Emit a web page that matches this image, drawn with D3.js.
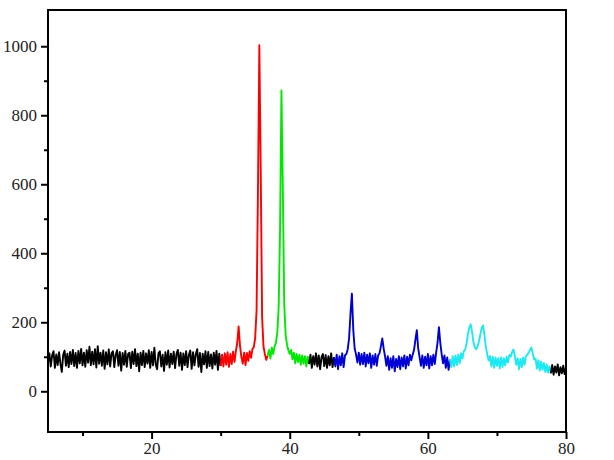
<!DOCTYPE html>
<html>
<head>
<meta charset="utf-8">
<script src="https://cdn.jsdelivr.net/npm/d3@7"></script>
<style>
  body { margin: 0; background: #fff; }
  .tick text { font-family: "Liberation Serif", "DejaVu Serif", serif; font-size: 17px; fill: #222; }
</style>
</head>
<body>
<div id="chart"></div>
<script>
const width = 614;
const height = 460;

// 2-theta sampling: each segment starts at segStart and steps by 0.2 deg
const step = 0.2;
const segStart = [5.0, 30.0, 36.8, 42.8, 46.4, 63.2, 77.8];

// intensity readings per coloured segment
const black1 = [
  84, 110, 72, 104, 116, 68, 107, 76, 113, 80,
  56, 106, 118, 74, 109, 70, 114, 79, 120, 73,
  111, 68, 117, 81, 123, 75, 112, 71, 119, 83,
  129, 76, 115, 78, 122, 69, 131, 80, 112, 74,
  118, 65, 113, 78, 121, 72, 110, 116, 70, 106,
  119, 74, 114, 60, 111, 77, 117, 71, 108, 112,
  67, 115, 79, 122, 73, 109, 58, 112, 76, 117,
  70, 110, 80, 119, 68, 114, 75, 126, 78, 64,
  111, 116, 72, 106, 59, 113, 77, 118, 69, 109,
  79, 115, 67, 108, 120, 74, 112, 62, 110, 76,
  116, 70, 106, 118, 65, 113, 75, 108, 122, 71,
  111, 56, 109, 78, 116, 68, 114, 73, 107, 66,
  112, 77, 117, 62, 109, 73
];
const red = [
  74, 106, 72, 110, 77, 113, 71, 108, 79, 115,
  85, 116, 140, 188, 132, 99, 80, 112, 76, 111,
  88, 116, 97, 122, 128, 155, 235, 580, 1003, 640,
  215, 130, 108, 91, 103
];
const green = [
  103, 120, 95, 126, 108, 130, 140, 170, 245, 470,
  872, 590, 255, 165, 135, 119, 108, 120, 93, 112,
  81, 108, 85, 106, 77, 104, 80, 102, 72, 100,
  79
];
const black2 = [79, 106, 68, 102, 77, 110, 72, 104, 64, 99, 108, 73, 105, 68, 102, 75, 110, 70, 99];
const blue = [
  99, 72, 106, 64, 102, 75, 110, 70, 104, 108,
  122, 155, 225, 283, 178, 124, 107, 83, 112, 77,
  108, 79, 112, 72, 106, 81, 110, 68, 104, 77,
  108, 74, 104, 110, 130, 153, 124, 101, 74, 102,
  62, 96, 68, 102, 58, 94, 70, 102, 64, 98,
  72, 104, 66, 100, 75, 106, 90, 106, 120, 150,
  177, 124, 99, 74, 104, 68, 100, 75, 108, 66,
  102, 75, 106, 79, 112, 140, 186, 140, 107, 81,
  104, 68, 98, 62, 92
];
const cyan = [
  92, 70, 102, 72, 104, 76, 106, 81, 110, 95,
  116, 120, 138, 165, 184, 194, 172, 142, 128, 122,
  130, 145, 165, 184, 191, 162, 128, 107, 89, 102,
  72, 100, 68, 98, 74, 96, 66, 98, 70, 96,
  75, 100, 83, 105, 100, 114, 121, 100, 77, 96,
  64, 94, 70, 98, 77, 102, 106, 112, 120, 127,
  108, 92, 94, 66, 90, 60, 86, 62, 82, 56,
  78, 54, 72, 52
];
const black3 = [52, 76, 48, 72, 54, 78, 46, 70, 52, 74, 50, 68];

const segValues = [black1, red, green, black2, blue, cyan, black3];
const segColor = ['#000000', '#ff0000', '#00e800', '#000000', '#0000d2', '#1ee8f0', '#000000'];

const xMajor = [20, 40, 60, 80];
const xMinor = [10, 30, 50, 70];
const yMajor = [0, 200, 400, 600, 800, 1000];
const yMinor = [100, 300, 500, 700, 900];

const x = d3.scaleLinear().domain([5, 80]).range([48, 566]);
const y = d3.scaleLinear().domain([-118, 1105]).range([432, 10]);

const svg = d3.select('#chart').append('svg')
  .attr('width', width)
  .attr('height', height);

const line = d3.line()
  .x((d) => x(d[0]))
  .y((d) => y(d[1]));

const plot = svg.append('g');
segValues.forEach((vals, k) => {
  const pts = vals.map((v, i) => [segStart[k] + i * step, v]);
  plot.append('path')
    .attr('d', line(pts))
    .attr('fill', 'none')
    .attr('stroke', segColor[k])
    .attr('stroke-width', 1.9)
    .attr('stroke-linejoin', 'round');
});

// frame
svg.append('rect')
  .attr('x', x(5)).attr('y', y(1105))
  .attr('width', x(80) - x(5)).attr('height', y(-118) - y(1105))
  .attr('fill', 'none')
  .attr('stroke', '#000')
  .attr('stroke-width', 2);

// axes
const fmt = d3.format('d');
const gx = svg.append('g').attr('transform', `translate(0,${y(-118)})`);
gx.call(d3.axisBottom(x).tickValues(xMajor).tickSize(7).tickSizeOuter(0).tickPadding(3).tickFormat(fmt));
const gxm = svg.append('g').attr('transform', `translate(0,${y(-118)})`);
gxm.call(d3.axisBottom(x).tickValues(xMinor).tickSize(4).tickSizeOuter(0).tickFormat(''));

const gy = svg.append('g').attr('transform', `translate(${x(5)},0)`);
gy.call(d3.axisLeft(y).tickValues(yMajor).tickSize(7).tickSizeOuter(0).tickPadding(4).tickFormat(fmt));
const gym = svg.append('g').attr('transform', `translate(${x(5)},0)`);
gym.call(d3.axisLeft(y).tickValues(yMinor).tickSize(4).tickSizeOuter(0).tickFormat(''));

svg.selectAll('.domain').remove();
svg.selectAll('.tick line').attr('stroke', '#000').attr('stroke-width', 2);
</script>
</body>
</html>
